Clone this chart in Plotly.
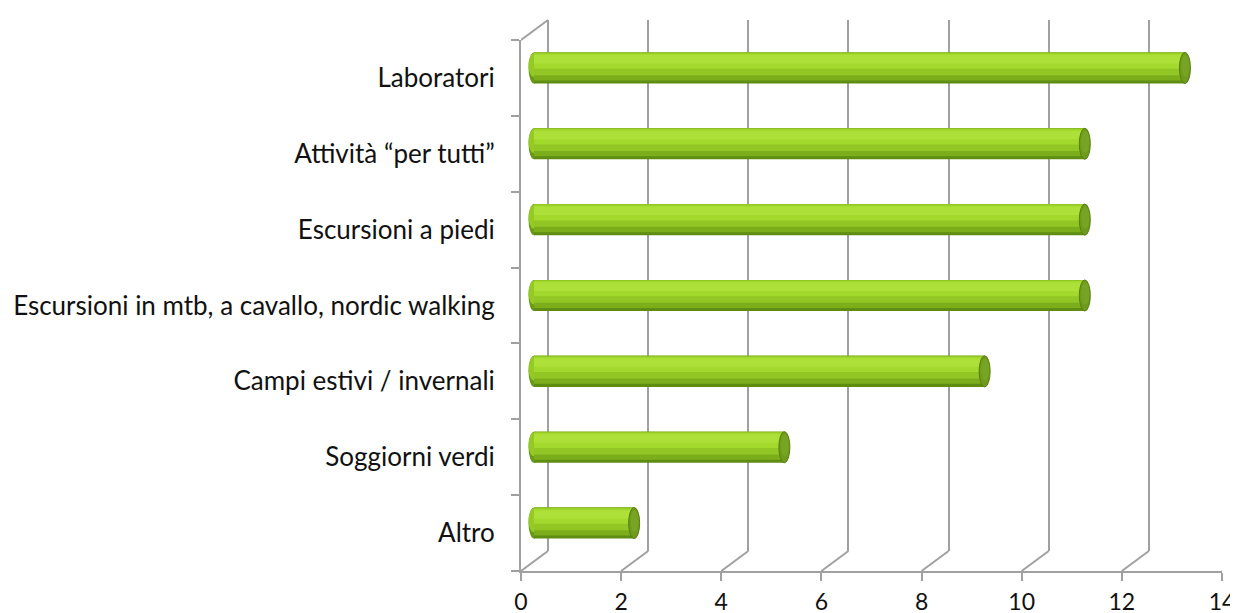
import plotly.graph_objects as go

# ---- data (bottom to top) ----
categories = ["Altro", "Soggiorni verdi", "Campi estivi / invernali",
              "Escursioni in mtb, a cavallo, nordic walking",
              "Escursioni a piedi", "Attività “per tutti”", "Laboratori"]
values = [2, 5, 9, 11, 11, 11, 13]
x_ticks = [0, 2, 4, 6, 8, 10, 12, 14]

# ---- layout geometry (pixels); page body has an 8px margin ----
W, H = 1230, 605
ML, MR, MT, MB = 513, 0, 12, 42
PW, PH = W - ML - MR, H - MT - MB          # 717 x 551
FRONT_W, FRONT_H = 701, 531                # front plane size
DX_BACK, DY_BACK = 27, 20                  # back-wall depth offset
DX_BAR, DY_BAR = 13, 10                    # bar-plane offset
XMAX = 14
ppu = FRONT_W / XMAX

LINE = "#a0a0a0"
FONT = dict(family="Lato, Carlito, Liberation Sans, sans-serif", size=26, color="#111111")
XFONT = dict(family="Lato, Carlito, Liberation Sans, sans-serif", size=23, color="#111111")

fig = go.Figure()

# cylinder body: stacked stripes (offset/width along category axis)
half = 0.205
layers = [
    (-half, 2 * half, "#5f8c12"),
    (-0.165, half + 0.165, "#7cae1c"),
    (-0.095, half + 0.095, "#92c624"),
    (-0.01, 0.19 + 0.01, "#a3d82d"),
    (0.06, 0.11, "#ade13a"),
]
for off, wdt, col in layers:
    fig.add_trace(go.Bar(
        y=list(range(len(categories))), x=values, orientation="h",
        xaxis="x2", yaxis="y2", base=0,
        offset=off, width=wdt,
        marker=dict(color=col, line=dict(width=0)),
        showlegend=False, hoverinfo="skip"))

shapes = []
for i, v in enumerate(values):
    # left rounded end
    shapes.append(dict(type="circle", xref="x2", yref="y2", xsizemode="pixel",
                       xanchor=0, x0=-5.5, x1=5.5, y0=i - half, y1=i + half,
                       fillcolor="#6a9916", line=dict(width=0), layer="below"))
    shapes.append(dict(type="circle", xref="x2", yref="y2", xsizemode="pixel",
                       xanchor=0, x0=-5.5, x1=5.5, y0=i - 0.12, y1=i + half - 0.01,
                       fillcolor="#94c926", line=dict(width=0), layer="below"))
    # right end cap
    shapes.append(dict(type="circle", xref="x2", yref="y2", xsizemode="pixel",
                       xanchor=v, x0=-5.5, x1=5.5, y0=i - half, y1=i + half,
                       fillcolor="#6f9a1e", line=dict(color="#56800e", width=1),
                       layer="above"))
    shapes.append(dict(type="circle", xref="x2", yref="y2", xsizemode="pixel",
                       xanchor=v, x0=-3.5, x1=4.5, y0=i - 0.12, y1=i + 0.17,
                       fillcolor="#77a423", line=dict(width=0), layer="above"))

# floor diagonals from front ticks to back wall
for t in x_ticks:
    shapes.append(dict(type="line", xref="x3", yref="paper", xsizemode="pixel",
                       xanchor=t, x0=0, x1=DX_BACK, y0=0, y1=DY_BACK / PH,
                       line=dict(color=LINE, width=2)))
# left wall top diagonal
shapes.append(dict(type="line", xref="x3", yref="paper", xsizemode="pixel",
                   xanchor=0, x0=0, x1=DX_BACK, y0=FRONT_H / PH, y1=1,
                   line=dict(color=LINE, width=2)))

fig.add_trace(go.Scatter(x=[None], y=[None], xaxis="x", yaxis="y", showlegend=False))
fig.add_trace(go.Scatter(x=[None] * len(categories), y=categories, xaxis="x3", yaxis="y3",
                         showlegend=False, hoverinfo="skip"))

back_range = (PW - DX_BACK) / ppu
fig.update_layout(
    width=W, height=H,
    margin=dict(l=ML, r=MR, t=MT, b=MB, autoexpand=False),
    paper_bgcolor="white", plot_bgcolor="rgba(0,0,0,0)",
    barmode="overlay", showlegend=False, hovermode=False,
    font=FONT,
    shapes=shapes,
    # back wall
    xaxis=dict(domain=[DX_BACK / PW, 1], range=[0, back_range], dtick=2, tick0=0,
               showgrid=True, gridcolor=LINE, gridwidth=2,
               zeroline=True, zerolinecolor=LINE, zerolinewidth=2,
               showticklabels=False, ticks="", showline=False),
    yaxis=dict(domain=[DY_BACK / PH, 1], range=[0, 1], showgrid=False,
               zeroline=False, showticklabels=False, ticks="", showline=False),
    # bar plane
    xaxis2=dict(domain=[0, (DX_BAR + FRONT_W) / PW], range=[-DX_BAR / ppu, XMAX],
                anchor="y2", showgrid=False, zeroline=False,
                showticklabels=False, ticks="", showline=False),
    yaxis2=dict(domain=[DY_BAR / PH, (DY_BAR + FRONT_H) / PH],
                range=[-0.5, len(categories) - 0.5], anchor="x2",
                showgrid=False, zeroline=False, showticklabels=False,
                ticks="", showline=False),
    # front plane (axes, ticks, labels)
    xaxis3=dict(domain=[0, FRONT_W / PW], range=[0, XMAX], anchor="y3",
                tickvals=x_ticks, ticktext=[str(t) for t in x_ticks],
                showgrid=False, zeroline=False, showline=True,
                linecolor=LINE, linewidth=2, ticks="outside", ticklen=8,
                tickwidth=2, tickcolor=LINE, tickfont=XFONT,
                ticklabelstandoff=1, automargin=False),
    yaxis3=dict(domain=[0, FRONT_H / PH], anchor="x3", type="category",
                categoryorder="array", categoryarray=categories,
                range=[-0.5, len(categories) - 0.5],
                tickmode="array", tickvals=categories, ticktext=categories,
                tickson="boundaries",
                showgrid=False, zeroline=False, showline=True,
                linecolor=LINE, linewidth=2, ticks="outside", ticklen=8,
                tickwidth=2, tickcolor=LINE, tickfont=FONT,
                ticklabelstandoff=19, automargin=False),
)

fig.write_html("out.html")
